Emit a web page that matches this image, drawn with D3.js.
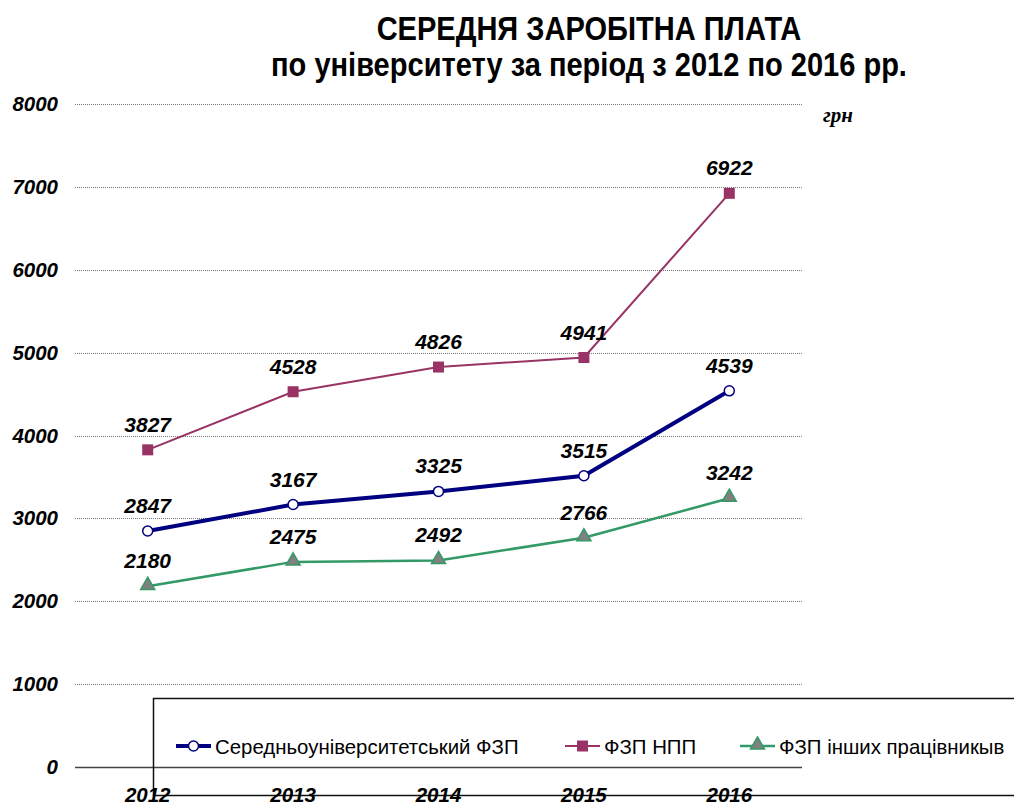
<!DOCTYPE html>
<html>
<head>
<meta charset="utf-8">
<script src="https://cdn.jsdelivr.net/npm/d3@7"></script>
<style>
  body { margin: 0; background: #fff; }
  text { font-family: "Liberation Sans", Arial, sans-serif; }
</style>
</head>
<body>
<script>
//==DATA==//
const years = ["2012", "2013", "2014", "2015", "2016"];
const avgValues = [2847, 3167, 3325, 3515, 4539];
const nppValues = [3827, 4528, 4826, 4941, 6922];
const otherValues = [2180, 2475, 2492, 2766, 3242];
const yTicks = [0, 1000, 2000, 3000, 4000, 5000, 6000, 7000, 8000];
const seriesNames = ["Середньоуніверситетський ФЗП", "ФЗП НПП", "ФЗП інших працівникыв"];
const titleLines = ["СЕРЕДНЯ ЗАРОБІТНА ПЛАТА", "по університету за період з 2012 по 2016 рр."];

//==SVG AREA==//
const width = 1014;
const height = 805;
const plotLeft = 75, plotRight = 802, plotTop = 104, plotBottom = 767;

const svg = d3.select("body").append("svg")
  .attr("width", width)
  .attr("height", height);

const x = d3.scalePoint().domain(years).range([plotLeft, plotRight]).padding(0.5);
const y = d3.scaleLinear().domain([0, 8000]).range([plotBottom, plotTop]);

//title - condensed look by squeezing horizontally
titleLines.forEach(function(t, i) {
  svg.append("text")
    .attr("transform", "translate(589," + (40 + i * 36) + ") scale(0.88,1)")
    .attr("text-anchor", "middle")
    .style("font-weight", "bold")
    .style("font-size", "33px")
    .text(t);
});

//unit
svg.append("text")
  .attr("x", 823).attr("y", 122)
  .style("font-family", "'Liberation Serif', 'Times New Roman', serif")
  .style("font-weight", "bold")
  .style("font-style", "italic")
  .style("font-size", "21px")
  .text("грн");

//gridlines
svg.append("g")
  .selectAll("line")
  .data(yTicks)
  .enter()
  .append("line")
  .attr("x1", plotLeft).attr("x2", plotRight)
  .attr("y1", d => Math.round(y(d)) + 0.5)
  .attr("y2", d => Math.round(y(d)) + 0.5)
  .attr("stroke", d => d === 0 ? "#444" : "#777")
  .attr("stroke-width", d => d === 0 ? 1.5 : 1)
  .attr("stroke-dasharray", d => d === 0 ? null : "1,1");

//y labels
svg.append("g")
  .selectAll("text")
  .data(yTicks)
  .enter()
  .append("text")
  .attr("x", 58)
  .attr("y", d => y(d) + 7)
  .attr("text-anchor", "end")
  .style("font-weight", "bold")
  .style("font-style", "italic")
  .style("font-size", "20.5px")
  .text(d => d);

//legend box (drawn under x labels)
svg.append("rect")
  .attr("x", 153.5).attr("y", 698.5)
  .attr("width", 900).attr("height", 97)
  .attr("fill", "none")
  .attr("stroke", "#111")
  .attr("stroke-width", 1.5);

//x labels
svg.append("g")
  .selectAll("text")
  .data(years)
  .enter()
  .append("text")
  .attr("x", d => x(d))
  .attr("y", 802)
  .attr("text-anchor", "middle")
  .style("font-weight", "bold")
  .style("font-style", "italic")
  .style("font-size", "20.5px")
  .text(d => d);

const series = [
  {name: seriesNames[0], values: avgValues, color: "#000080", width: 4, marker: "circle"},
  {name: seriesNames[1], values: nppValues, color: "#993366", width: 2, marker: "square"},
  {name: seriesNames[2], values: otherValues, color: "#339966", width: 2.5, marker: "triangle"}
];

const line = d3.line()
  .x((d, i) => x(years[i]))
  .y(d => y(d));

function drawMarker(g, s, cx, cy) {
  if (s.marker === "circle") {
    g.append("circle").attr("cx", cx).attr("cy", cy).attr("r", 5)
      .attr("fill", "#fff").attr("stroke", s.color).attr("stroke-width", 1.5);
  } else if (s.marker === "square") {
    g.append("rect").attr("x", cx - 5.5).attr("y", cy - 5.5)
      .attr("width", 11).attr("height", 11).attr("fill", s.color);
  } else {
    g.append("path")
      .attr("d", d3.symbol().type(d3.symbolTriangle).size(85)())
      .attr("transform", "translate(" + cx + "," + (cy - 1) + ")")
      .attr("fill", "#808080").attr("stroke", s.color).attr("stroke-width", 1.5);
  }
}

series.forEach(function(s) {
  svg.append("path")
    .datum(s.values)
    .attr("fill", "none")
    .attr("stroke", s.color)
    .attr("stroke-width", s.width)
    .attr("d", line);

  const g = svg.append("g");
  s.values.forEach(function(v, i) {
    drawMarker(g, s, x(years[i]), y(v));
  });

  svg.append("g")
    .selectAll("text")
    .data(s.values)
    .enter()
    .append("text")
    .attr("x", (d, i) => x(years[i]))
    .attr("y", d => y(d) - 18)
    .attr("text-anchor", "middle")
    .style("font-weight", "bold")
    .style("font-style", "italic")
    .style("font-size", "21px")
    .text(d => d);
});

//legend
const legendX = [176, 565, 740];
series.forEach(function(s, i) {
  const g = svg.append("g");
  const lx = legendX[i];
  g.append("line")
    .attr("x1", lx).attr("x2", lx + 35)
    .attr("y1", 746).attr("y2", 746)
    .attr("stroke", s.color)
    .attr("stroke-width", s.width);
  drawMarker(g, s, lx + 17.5, 746);
  g.append("text")
    .attr("x", lx + 39)
    .attr("y", 754)
    .style("font-size", "20.4px")
    .text(s.name);
});
</script>
</body>
</html>
